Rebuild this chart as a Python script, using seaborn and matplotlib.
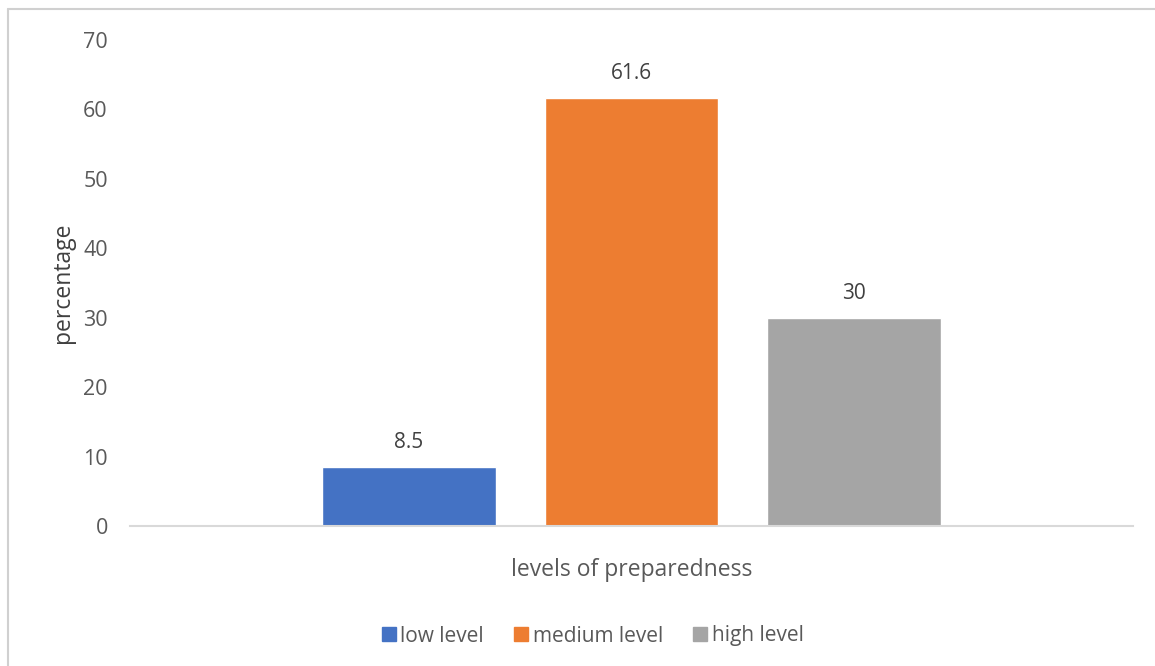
import matplotlib
matplotlib.use("Agg")
import matplotlib.pyplot as plt
import seaborn as sns
import pandas as pd
from matplotlib.lines import Line2D

levels = ["low level", "medium level", "high level"]
values = [8.5, 61.6, 30]
group = ["levels of preparedness"] * 3
colors = ["#4472C4", "#ED7D31", "#A5A5A5"]
yticks = [0, 10, 20, 30, 40, 50, 60, 70]

sns.set_theme(style="white")
plt.rcParams["font.family"] = ["Open Sans", "DejaVu Sans"]
text_color = "#595959"

df = pd.DataFrame({"group": group, "level": levels, "value": values})

fig = plt.figure(figsize=(11.55, 6.66), dpi=100)
ax = fig.add_axes([130 / 1155, 1 - 526 / 666, (1133 - 130) / 1155, (526 - 40) / 666])

sns.barplot(data=df, x="group", y="value", hue="level", hue_order=levels,
            palette=colors, width=0.8, gap=0.22, saturation=1, ax=ax,
            legend=True, errorbar=None)

for c in ax.containers:
    ax.bar_label(c, labels=[f"{v:g}" for v in c.datavalues], padding=10,
                 fontsize=15, color="#404040")

ax.set_xlim(-0.601, 0.601)
ax.set_ylim(0, 70)
ax.set_yticks(yticks)
ax.set_xticks([])
ax.tick_params(axis="y", length=0, pad=16, labelsize=15.5, labelcolor=text_color)
for s in ["top", "right", "left"]:
    ax.spines[s].set_visible(False)
ax.spines["bottom"].set_color("#D9D9D9")
ax.spines["bottom"].set_linewidth(1.5)
ax.set_ylabel("percentage", fontsize=16.5, color="#404040", labelpad=6)
ax.set_xlabel("levels of preparedness", fontsize=16.5, color=text_color, labelpad=23)

ax.legend_.remove()
handles = [Line2D([0], [0], marker="s", linestyle="", markersize=10,
                  markerfacecolor=c, markeredgecolor=c) for c in colors]
fig.legend(handles, levels, loc="center", bbox_to_anchor=(591 / 1155, 1 - 636 / 666),
           ncol=3, frameon=False, fontsize=15, labelcolor=text_color,
           handletextpad=0.05, columnspacing=1.3, handlelength=1.0)

# chart frame
fig.add_artist(Line2D([8 / 1155, 8 / 1155], [1 - 9 / 666, 0], transform=fig.transFigure,
                      color="#D0D0D0", linewidth=1.5))
fig.add_artist(Line2D([8 / 1155, 1], [1 - 9 / 666, 1 - 9 / 666], transform=fig.transFigure,
                      color="#D0D0D0", linewidth=1.5))

fig.savefig("out.png", dpi=100)
